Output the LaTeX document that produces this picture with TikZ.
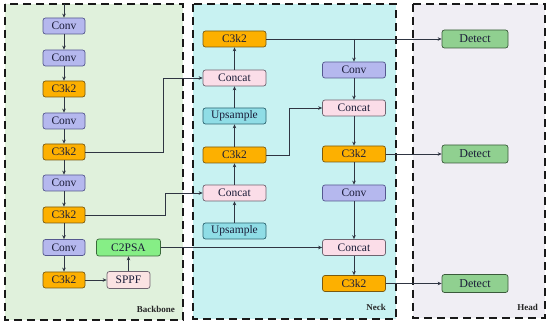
\documentclass[tikz,border=0pt]{standalone}
\usepackage{fontspec}
\setmainfont{Liberation Serif}
\usetikzlibrary{arrows.meta}
\definecolor{bbfill}{HTML}{E0F1DC}
\definecolor{nkfill}{HTML}{C8F2F2}
\definecolor{hdfill}{HTML}{F0EEF4}
\definecolor{convf}{HTML}{B5B8EE}
\definecolor{convd}{HTML}{55588F}
\definecolor{c3f}{HTML}{FDB000}
\definecolor{c3d}{HTML}{7A5A10}
\definecolor{catf}{HTML}{FBDDE8}
\definecolor{catd}{HTML}{6E6470}
\definecolor{upf}{HTML}{8FDDE6}
\definecolor{upd}{HTML}{2C6470}
\definecolor{spf}{HTML}{FBE3E3}
\definecolor{psaf}{HTML}{86EE86}
\definecolor{psad}{HTML}{3A6A3A}
\definecolor{detf}{HTML}{90D090}
\definecolor{detd}{HTML}{3A5A3A}
\definecolor{txt}{HTML}{1A1C38}
\definecolor{lin}{HTML}{2F3542}
\begin{document}
\begin{tikzpicture}[x=1pt,y=-1pt,
  blk/.style={rounded corners=2.5pt, line width=0.7pt, minimum height=16pt, inner sep=0pt,
    font=\fontsize{11.5}{12}\selectfont, text=txt},
  convbox/.style={blk, fill=convf, draw=convd, minimum width=42pt},
  cbox/.style={blk, fill=c3f, draw=c3d, minimum width=42pt},
  ncbox/.style={blk, fill=c3f, draw=c3d, minimum width=63pt},
  nconvbox/.style={blk, fill=convf, draw=convd, minimum width=63pt},
  catbox/.style={blk, fill=catf, draw=catd, minimum width=63pt},
  upbox/.style={blk, fill=upf, draw=upd, minimum width=63pt},
  sppfbox/.style={blk, fill=spf, draw=catd, minimum width=43pt, minimum height=17pt},
  psabox/.style={blk, fill=psaf, draw=psad, minimum width=64pt, minimum height=17pt},
  detbox/.style={blk, fill=detf, draw=detd, minimum width=66pt, minimum height=18pt, font=\fontsize{12}{13}\selectfont},
  panel/.style={draw=black!90, line width=1.8pt, dash pattern=on 8pt off 5pt},
  conn/.style={draw=lin, line width=0.8pt, -{Stealth[length=4pt,width=3.5pt]}},
  lbl/.style={font=\bfseries\fontsize{9}{10}\selectfont, text=black!85, inner sep=0pt}
]
\useasboundingbox (0,0) rectangle (550,323);
% panels
\path[panel, fill=bbfill] (5,4) rectangle (183,320);
\path[panel, fill=nkfill] (193,4) rectangle (396,319);
\path[panel, fill=hdfill] (413,4) rectangle (545,318);
% backbone
\coordinate (in) at (64,4);
\node[convbox] (b1) at (64,26) {Conv};
\node[convbox] (b2) at (64,58) {Conv};
\node[cbox] (b3) at (64,89) {C3k2};
\node[convbox] (b4) at (64,121) {Conv};
\node[cbox] (b5) at (64,152) {C3k2};
\node[convbox] (b6) at (64,183) {Conv};
\node[cbox] (b7) at (64,215) {C3k2};
\node[convbox] (b8) at (64,247.5) {Conv};
\node[cbox] (b9) at (64,280) {C3k2};
\node[sppfbox] (sppf) at (128.5,280) {SPPF};
\node[psabox] (psa) at (128.5,247.5) {C2PSA};
% neck left
\node[ncbox] (n1) at (234.5,39) {C3k2};
\node[catbox] (n2) at (234.5,78) {Concat};
\node[upbox] (n3) at (234.5,116) {Upsample};
\node[ncbox] (n4) at (234.5,155) {C3k2};
\node[catbox] (n5) at (234.5,193) {Concat};
\node[upbox] (n6) at (234.5,231) {Upsample};
% neck right
\node[nconvbox] (r1) at (354,70) {Conv};
\node[catbox] (r2) at (354,108) {Concat};
\node[ncbox] (r3) at (354,154) {C3k2};
\node[nconvbox] (r4) at (354,193) {Conv};
\node[catbox] (r5) at (354,247.5) {Concat};
\node[ncbox] (r6) at (354,283.5) {C3k2};
% head
\node[detbox] (d1) at (475,39) {Detect};
\node[detbox] (d2) at (475,154) {Detect};
\node[detbox] (d3) at (475,283.5) {Detect};
% labels
\node[lbl, anchor=east] (lb) at (175,309) {Backbone};
\node[lbl, anchor=east] (ln) at (386,307) {Neck};
\node[lbl, anchor=east] (lh) at (538,307) {Head};
% bend coordinates
\coordinate (k1) at (163,0);
\coordinate (k2) at (165,0);
\coordinate (k3) at (289,0);
% backbone chain
\draw[conn] (in) -- (b1);
\draw[conn] (b1) -- (b2);
\draw[conn] (b2) -- (b3);
\draw[conn] (b3) -- (b4);
\draw[conn] (b4) -- (b5);
\draw[conn] (b5) -- (b6);
\draw[conn] (b6) -- (b7);
\draw[conn] (b7) -- (b8);
\draw[conn] (b8) -- (b9);
\draw[conn] (b9) -- (sppf);
\draw[conn] (sppf) -- (psa);
% backbone to neck
\draw[conn] (b5.east) -- (b5.east -| k1) |- (n2.west);
\draw[conn] (b7.east) -- (b7.east -| k2) |- (n5.west);
\draw[conn] (psa.east) -- (r5.west);
% neck left chain
\draw[conn] (n6) -- (n5);
\draw[conn] (n5) -- (n4);
\draw[conn] (n4) -- (n3);
\draw[conn] (n3) -- (n2);
\draw[conn] (n2) -- (n1);
% neck right
\draw[conn] (n1.east) -- (d1.west);
\draw[conn] (n1.east -| r1) -- (r1.north);
\draw[conn] (r1) -- (r2);
\draw[conn] (n4.east) -- (n4.east -| k3) |- (r2.west);
\draw[conn] (r2) -- (r3);
\draw[conn] (r3.east) -- (d2.west);
\draw[conn] (r3) -- (r4);
\draw[conn] (r4) -- (r5);
\draw[conn] (r5) -- (r6);
\draw[conn] (r6.east) -- (d3.west);
\end{tikzpicture}
\end{document}
